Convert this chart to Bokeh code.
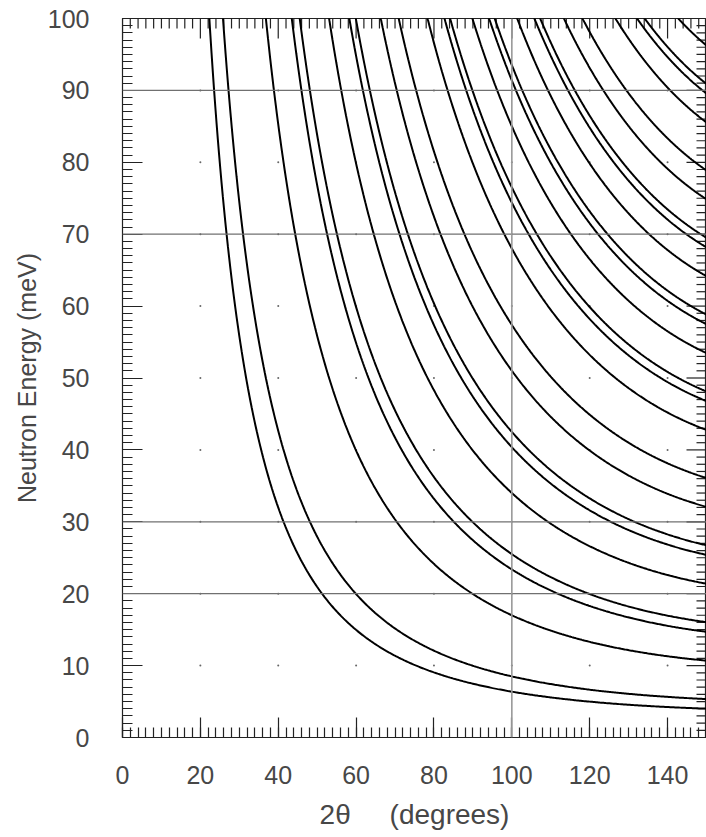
import numpy as np
from bokeh.plotting import figure
from bokeh.models import LinearAxis, SingleIntervalTicker, Span, Range1d
from bokeh.embed import file_html
from bokeh.resources import INLINE

# ---- data -----------------------------------------------------------------
# d-spacings (Angstrom) of the Bragg reflections whose curves are drawn
d_spacings = [2.33798, 2.02475, 1.43172, 1.22097, 1.16899, 1.01238, 0.92902,
              0.90549, 0.82660, 0.77933, 0.71586, 0.68449, 0.67492, 0.64028,
              0.61754, 0.61048, 0.58449, 0.56704, 0.56156, 0.54114, 0.52720,
              0.50619, 0.49472, 0.49107, 0.47724]
E_CONST = 81.81           # meV * A^2  (E = 81.81 / lambda^2)
x_ticks = [0, 20, 40, 60, 80, 100, 120, 140]
y_ticks = [0, 10, 20, 30, 40, 50, 60, 70, 80, 90, 100]
h_lines = [20, 30, 70, 90]   # solid horizontal grid lines (meV)
v_lines = [100]              # solid vertical grid line (degrees)

X_MAX, Y_MAX = 150, 100
X_MINOR_STEP, Y_MINOR_STEP = 2, 1

W, H = 706, 837
B_LEFT, B_TOP, B_RIGHT, B_BOTTOM = 122, 18, 0, 100
FRAME_W = W - B_LEFT - B_RIGHT
FRAME_H = H - B_TOP - B_BOTTOM
PX_X = FRAME_W / X_MAX
PX_Y = FRAME_H / Y_MAX
MAJOR_LEN, MINOR_LEN = 20, 10

p = figure(width=W, height=H, x_range=Range1d(0, X_MAX), y_range=Range1d(0, Y_MAX),
           output_backend="svg", toolbar_location=None,
           x_axis_type=None, y_axis_type=None,
           min_border_left=B_LEFT, min_border_top=B_TOP,
           min_border_right=B_RIGHT, min_border_bottom=B_BOTTOM)
p.background_fill_color = "white"
p.border_fill_color = "white"
p.outline_line_color = "#222222"
p.outline_line_width = 1.2

TXT = "#474747"
FONT = "Liberation Sans"
TICK_COL = "#222222"


def style_axis(ax):
    ax.major_tick_in = MAJOR_LEN
    ax.major_tick_out = 0
    ax.minor_tick_in = MINOR_LEN
    ax.minor_tick_out = 0
    ax.axis_line_color = TICK_COL
    ax.major_tick_line_color = TICK_COL
    ax.minor_tick_line_color = TICK_COL
    ax.major_tick_line_width = 1.2
    ax.minor_tick_line_width = 1.2
    ax.major_label_text_font = FONT
    ax.major_label_text_color = TXT
    ax.major_label_text_font_size = "25px"
    ax.axis_label_text_font = FONT
    ax.axis_label_text_color = TXT
    ax.axis_label_text_font_style = "normal"


NB = "\u00a0"
xb = LinearAxis(ticker=SingleIntervalTicker(interval=20, num_minor_ticks=10),
                axis_label="2θ" + NB * 5 + "(degrees)")
style_axis(xb)
xb.major_label_standoff = 28
xb.axis_label_text_font_size = "28px"
xb.axis_label_standoff = 12
p.add_layout(xb, "below")

yl = LinearAxis(ticker=SingleIntervalTicker(interval=10, num_minor_ticks=10),
                axis_label="Neutron Energy (meV)")
style_axis(yl)
yl.major_label_standoff = 33
yl.axis_label_text_font_size = "25px"
yl.axis_label_standoff = 4
p.add_layout(yl, "left")

# inward ticks on the top and right frame edges (same tick positions)
x_minor = [v for v in range(0, X_MAX + 1, X_MINOR_STEP) if v not in x_ticks]
y_minor = [v for v in range(0, Y_MAX + 1, Y_MINOR_STEP) if v not in y_ticks]
top_x = list(x_ticks) + x_minor
top_len = [MAJOR_LEN] * len(x_ticks) + [MINOR_LEN] * len(x_minor)
p.segment(x0=top_x, x1=top_x, y0=[Y_MAX] * len(top_x),
          y1=[Y_MAX - L / PX_Y for L in top_len], line_color=TICK_COL, line_width=1.2)
right_y = list(y_ticks) + y_minor
right_len = [MAJOR_LEN] * len(y_ticks) + [MINOR_LEN] * len(y_minor)
p.segment(x0=[X_MAX] * len(right_y), x1=[X_MAX - L / PX_X for L in right_len],
          y0=right_y, y1=right_y, line_color=TICK_COL, line_width=1.2)

# dots at interior major-grid intersections
gx, gy = np.meshgrid(x_ticks[1:], y_ticks[1:-1])
p.scatter(gx.ravel(), gy.ravel(), size=2, color="#666666", line_color=None)

for yv in h_lines:
    p.add_layout(Span(location=yv, dimension="width", line_color="#707070", line_width=1.2))
for xv in v_lines:
    p.add_layout(Span(location=xv, dimension="height", line_color="#999999", line_width=1.6))

# Bragg curves: E = 81.81 / (2 d sin(theta))^2
for d in d_spacings:
    s_min = np.sqrt(E_CONST / 110.0) / (2 * d)
    tt_min = 2 * np.degrees(np.arcsin(min(s_min, 1.0)))
    tt = np.linspace(tt_min, X_MAX, 400)
    lam = 2 * d * np.sin(np.radians(tt / 2))
    E = E_CONST / lam ** 2
    p.line(tt, E, line_color="black", line_width=2)

open("out.html", "w").write(file_html(p, INLINE))
